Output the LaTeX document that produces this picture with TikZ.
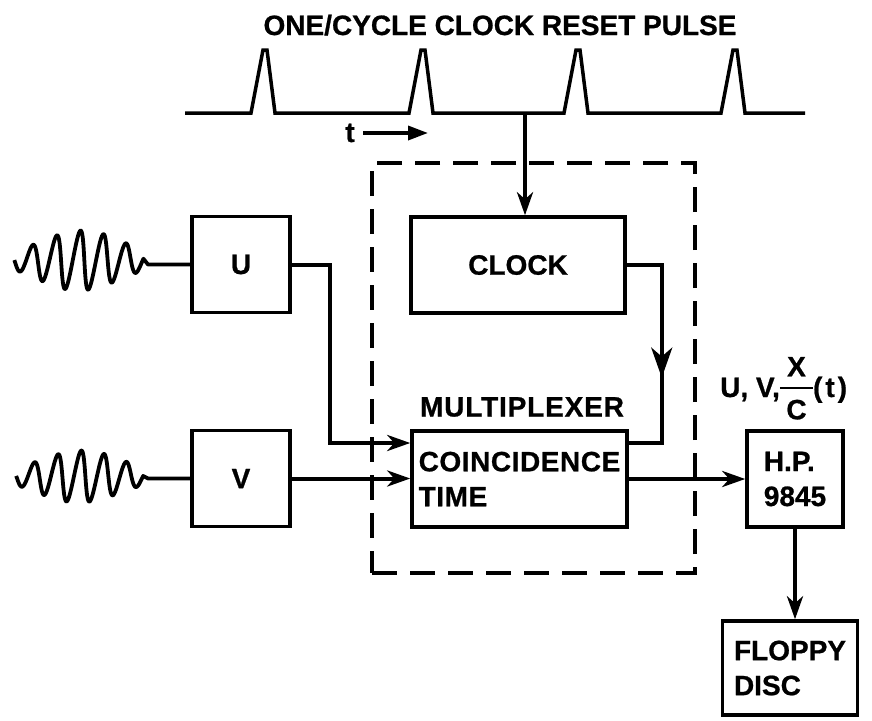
\documentclass[tikz,border=0pt]{standalone}
\usepackage{fontspec}
\setmainfont[BoldFeatures={FakeBold=0.8}]{Liberation Sans}
\usetikzlibrary{arrows.meta,decorations.markings}
\newcommand\fracXC{{\setlength\arrayrulewidth{2.5pt}\begin{tabular}[c]{@{\hspace{6.5pt}}c@{\hspace{6.5pt}}}X\\\hline\rule{0pt}{30pt}C\end{tabular}}}
\begin{document}
\begin{tikzpicture}[x=1pt,y=-1pt,
  declare function={
    wu(\x)=-4+30*exp(-((\x-80)/60)^2)*sin(90+(\x-20)*15.45);
    wv(\x)=-2+26*exp(-((\x-80)/60)^2)*sin(90+(\x-22)*15.65);},
  every node/.style={font=\fontsize{28}{35}\selectfont\bfseries},
  box/.style={draw, line width=3.5pt, inner sep=0pt},
  conn/.style={line width=4pt},
  arr/.style={conn, -{Stealth[length=23pt,width=16pt,inset=7pt]}},
  farr/.style={line width=3.5pt, -{Triangle[length=20pt,width=14pt]}},
  wave/.style={line width=3.8pt, line join=round},
  pulse/.style={line width=3.5pt, line join=miter},
  dashbox/.style={draw, line width=3.5pt, dash pattern=on 25pt off 13pt, inner sep=0pt},
  midarrow/.style={postaction={decorate}, decoration={markings,
     mark=at position 0.6 with {\arrow{Stealth[length=30pt,width=21pt,inset=9pt]}}}}]
\useasboundingbox (0,0) rectangle (872,720);

% title and pulse train
\node[anchor=base] (title) at (500,35) {ONE/CYCLE CLOCK RESET PULSE};
\draw[pulse] (185,113)
  -- (251,113) -- (263,50) -- (267,50) -- (275,113)
  -- (409,113) -- (421,50) -- (425,50) -- (433,113)
  -- (564,113) -- (576,50) -- (580,50) -- (588,113)
  -- (721,113) -- (733,50) -- (737,50) -- (745,113)
  -- (805,113);
\coordinate (pj) at (525,113);
\node (tlbl) at (350,133) {t};
\coordinate (ta) at (363,133);
\coordinate (tb) at (428,133);
\draw[farr] (ta) -- (tb);

% boxes
\node[dashbox, minimum width=323, minimum height=410] (mux) at (533.5,368) {};
\node[box, minimum width=98, minimum height=96] (U) at (241,264.5) {U};
\node[box, minimum width=98, minimum height=96] (V) at (241,478.5) {V};
\node[box, minimum width=214, minimum height=96] (clock) at (518,265) {CLOCK};
\node (muxlbl) at (522,407) {\addfontfeature{LetterSpace=3}MULTIPLEXER};
\node[box, minimum width=215, minimum height=96, align=left] (coin) at (519.5,479) {\addfontfeature{LetterSpace=2}COINCIDENCE\\\addfontfeature{LetterSpace=2}TIME};
\node[box, minimum width=96, minimum height=96, align=left] (hp) at (795,479) {H.P.\\9845};
\node[box, minimum width=135, minimum height=94, align=left] (floppy) at (790,668) {FLOPPY\\DISC};
\node[anchor=base west, inner sep=0pt] (lbl) at (720,397) {U, V,\fracXC(\kern3pt t\kern3pt)};

% input waves
\begin{scope}[shift={(0,264.5)}]
\draw[wave] plot[domain=14:143, samples=220, variable=\x] ({\x-0.07*wu(\x)}, {wu(\x)}) -- (148,0) -- (U.west);
\end{scope}
\begin{scope}[shift={(0,478.5)}]
\draw[wave] plot[domain=16:143, samples=220, variable=\x] ({\x-0.07*wv(\x)}, {wv(\x)}) -- (148,0) -- (V.west);
\end{scope}

% connectors
\coordinate (cinU) at ([yshift=36pt]coin.west);
\coordinate (cinC) at ([yshift=36pt]coin.east);
\draw[arr] (pj) -- (pj |- clock.north);
\draw[arr] (U.east) -- ++(38,0) |- (cinU);
\draw[arr] (V.east) -- (V.east -| coin.west);
\draw[conn, midarrow] (clock.east) -- ++(35,0) |- (cinC);
\draw[arr] (coin.east) -- (hp.west);
\draw[arr] (hp.south) -- (hp.south |- floppy.north);
\end{tikzpicture}
\end{document}
